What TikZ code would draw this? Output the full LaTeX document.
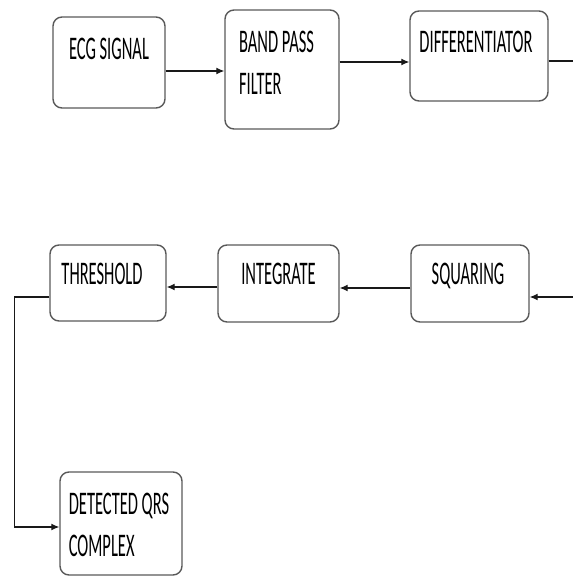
\documentclass[tikz,border=0pt]{standalone}
\usepackage{fontspec}
\setmainfont{Carlito}
\usepackage{tikz}
\usetikzlibrary{arrows.meta}

\newcommand{\nrw}[1]{\scalebox{0.5}[1]{#1}}
\tikzset{
  block/.style={draw=black!65, line width=1.4pt, rounded corners=9pt},
  txt/.style={anchor=north, inner sep=0pt, text=black, font=\fontsize{33}{42}\selectfont, align=left},
  arr/.style={-{Latex[length=8pt,width=7pt]}, line width=1.2pt, draw=black!90},
}

\begin{document}
\begin{tikzpicture}[x=1pt,y=-1pt]
\useasboundingbox (0,0) rectangle (573,576);
\clip (0,0) rectangle (573,576);
% top row
\node[block, minimum width=112pt, minimum height=91pt,
      label={[txt, yshift=-22pt]north:\nrw{ECG SIGNAL}}] (ecg) at (109,62.5) {};
\node[block, minimum width=114pt, minimum height=119pt,
      label={[txt, yshift=-22pt, xshift=-5.5pt]north:\nrw{BAND PASS}\\\nrw{FILTER}}] (bpf) at (282,69.5) {};
\node[block, minimum width=138pt, minimum height=90pt,
      label={[txt, yshift=-21pt, xshift=-3pt]north:\nrw{DIFFERENTIATOR}}] (diff) at (479,56) {};
% second row
\node[block, minimum width=116pt, minimum height=76pt,
      label={[txt, yshift=-19pt, xshift=-6pt]north:\nrw{THRESHOLD}}] (thr) at (108,283) {};
\node[block, minimum width=121pt, minimum height=77pt,
      label={[txt, yshift=-19pt]north:\nrw{INTEGRATE}}] (integ) at (278.5,283.5) {};
\node[block, minimum width=118pt, minimum height=77pt,
      label={[txt, yshift=-19pt, xshift=-2pt]north:\nrw{SQUARING}}] (sq) at (470,283.5) {};
% output
\node[block, minimum width=122pt, minimum height=103pt,
      label={[txt, yshift=-22pt, xshift=-2pt]north:\nrw{DETECTED QRS}\\\nrw{COMPLEX}}] (dqrs) at (121,523.5) {};

\draw[arr] ([yshift=-8.5pt]ecg.east) -- ([yshift=-8.5pt]ecg.east -| bpf.west);
\draw[arr] ([yshift=7.5pt]bpf.east) -- ([yshift=7.5pt]bpf.east -| diff.west);
\draw[arr] ([yshift=-5pt]diff.east) -- ++(60,0) |- ([yshift=-13.5pt]sq.east);
\draw[arr] ([yshift=-4.5pt]sq.west) -- ([yshift=-4.5pt]sq.west -| integ.east);
\draw[arr] ([yshift=-3.5pt]integ.west) -- ([yshift=-3.5pt]integ.west -| thr.east);
\draw[arr] ([yshift=-14pt]thr.west) -- ++(-35,0) |- ([yshift=-3.5pt]dqrs.west);
\end{tikzpicture}
\end{document}
